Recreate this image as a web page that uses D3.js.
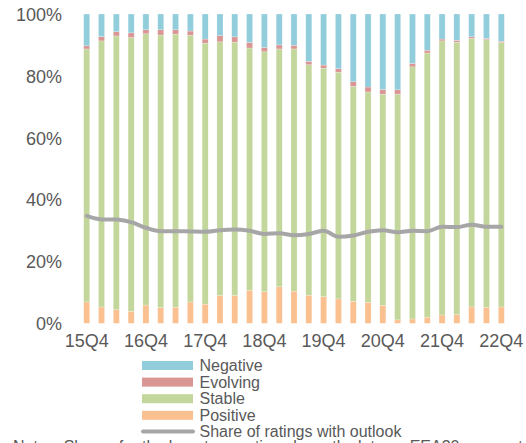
<!DOCTYPE html>
<html><head><meta charset="utf-8">
<script src="https://cdn.jsdelivr.net/npm/d3@7"></script>
<style>
html,body{margin:0;padding:0;background:#fff;overflow:hidden;}
svg{display:block;font-family:"Liberation Sans",Arial,Helvetica,sans-serif;}
</style></head>
<body>
<svg id="chart" width="526" height="443"></svg>
<script>
const quarters = ["15Q4","16Q1","16Q2","16Q3","16Q4","17Q1","17Q2","17Q3","17Q4","18Q1","18Q2","18Q3","18Q4","19Q1","19Q2","19Q3","19Q4","20Q1","20Q2","20Q3","20Q4","21Q1","21Q2","21Q3","21Q4","22Q1","22Q2","22Q3","22Q4"];
const tickLabels = ["15Q4","16Q4","17Q4","18Q4","19Q4","20Q4","21Q4","22Q4"];
const positive = [6.9,5.3,4.4,3.9,5.9,5.1,5.2,6.9,6.2,9.0,9.0,10.7,10.2,11.8,10.4,9.1,8.6,7.9,7.1,6.8,5.8,1.1,1.4,2.0,2.7,2.8,5.3,5.2,5.3];
const stable   = [81.8,86.0,88.5,88.5,87.7,88.1,88.3,86.2,84.4,82.0,81.9,78.3,77.6,76.9,78.3,74.5,73.9,73.3,69.5,68.0,68.3,73.0,81.5,85.4,88.6,88.1,86.8,86.5,85.5];
const evolving = [1.0,1.4,1.4,1.5,1.3,1.7,1.4,1.4,1.3,2.0,1.7,1.8,1.4,1.3,1.2,1.1,1.0,1.1,1.5,1.6,1.5,1.4,1.1,0.9,0.6,0.6,0.5,0.4,0.4];
const negative = [10.3,7.3,5.7,6.1,5.1,5.1,5.1,5.5,8.1,7.0,7.4,9.2,10.8,10.0,10.1,15.3,16.5,17.7,21.9,23.6,24.4,24.5,16.0,11.7,8.1,8.5,7.4,7.9,8.8];
const shareWithOutlook = [34.7,33.6,33.6,32.7,30.9,29.8,29.8,29.7,29.6,30.1,30.3,29.9,28.9,29.1,28.5,28.9,29.9,28.0,28.4,29.6,30.1,29.4,29.9,29.8,31.2,31.1,31.9,31.2,31.2];
const yTicks = [0,20,40,60,80,100];
const seriesNames = ["Positive","Stable","Evolving","Negative"];
const colors = {Positive:"#fac090",Stable:"#c3d69b",Evolving:"#d99694",Negative:"#92cddc"};
const lineName = "Share of ratings with outlook";
const note = "Notes: Shares for the long-term ratings by outlook type, EEA30 corporates.";

const svg = d3.select("#chart");
const textColor = "#595959";

const x = d3.scaleBand().domain(quarters).range([79.3, 508.7]).paddingInner(0.59).paddingOuter(0.295);
const y = d3.scaleLinear().domain([0,100]).range([323.3, 14]);

const table = quarters.map((q,i)=>({q, Positive:positive[i], Stable:stable[i], Evolving:evolving[i], Negative:negative[i]}));
const stacked = d3.stack().keys(seriesNames)(table);

svg.append("g").selectAll("g").data(stacked).join("g")
  .attr("fill", d=>colors[d.key])
  .selectAll("rect").data(d=>d).join("rect")
  .attr("x", d=>x(d.data.q))
  .attr("width", x.bandwidth())
  .attr("y", d=>y(d[1]))
  .attr("height", d=>y(d[0])-y(d[1]))
  .attr("stroke","#ffffff").attr("stroke-width",0.4).attr("stroke-opacity",0.6);

// line
const line = d3.line().x((d,i)=>x(quarters[i])+x.bandwidth()/2).y(d=>y(d)).curve(d3.curveMonotoneX);
svg.append("path").datum(shareWithOutlook).attr("d", line)
  .attr("fill","none").attr("stroke","#a6a6a6").attr("stroke-width",4).attr("stroke-linecap","round").attr("stroke-linejoin","round");

// y axis
const yAxis = d3.axisLeft(y).tickValues(yTicks).tickFormat(d=>d+"%").tickSize(0).tickPadding(0);
const gy = svg.append("g").attr("transform","translate(62,0)").call(yAxis);
gy.select(".domain").remove();
gy.selectAll("text").attr("fill",textColor).style("font-size","18px").attr("dy","0.35em");

// x axis
const xAxis = d3.axisBottom(x).tickValues(tickLabels).tickSize(0).tickPadding(0);
const gx = svg.append("g").attr("transform","translate(0,334.5)").call(xAxis);
gx.select(".domain").remove();
gx.selectAll("text").attr("fill",textColor).style("font-size","18px").attr("dy","0.72em");

// legend
const legendNames = ["Negative","Evolving","Stable","Positive"];
const leg = svg.append("g");
legendNames.forEach((n,i)=>{
  const cy = 365.5 + i*16.6;
  leg.append("rect").attr("x",142).attr("y",cy-4.5).attr("width",51).attr("height",9).attr("fill",colors[n]);
  leg.append("text").attr("x",199.5).attr("y",cy).attr("dy","0.35em").attr("fill",textColor).style("font-size","16px").text(n);
});
const ly = 365.5 + 4*16.6 - 0.5;
leg.append("line").attr("x1",143).attr("x2",193).attr("y1",ly).attr("y2",ly).attr("stroke","#a6a6a6").attr("stroke-width",4).attr("stroke-linecap","round");
leg.append("text").attr("x",199.5).attr("y",ly).attr("dy","0.35em").attr("fill",textColor).style("font-size","16px").text(lineName);

svg.append("text").attr("x",13).attr("y",452).attr("fill",textColor).style("font-size","16px").text(note);
</script>
</body></html>
